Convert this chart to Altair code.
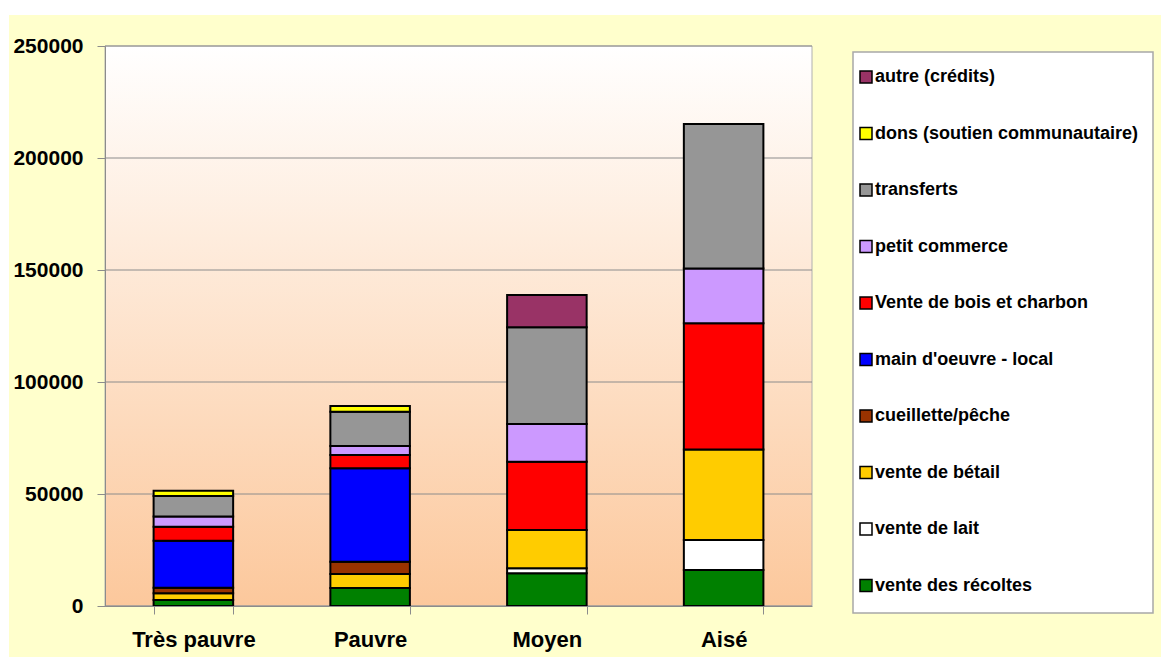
import altair as alt
import pandas as pd

# Household income by wealth group, stacked by source (bottom to top)
categories = ["Très pauvre", "Pauvre", "Moyen", "Aisé"]

sources = [
    "vente des récoltes",
    "vente de lait",
    "vente de bétail",
    "cueillette/pêche",
    "main d'oeuvre - local",
    "Vente de bois et charbon",
    "petit commerce",
    "transferts",
    "dons (soutien communautaire)",
    "autre (crédits)",
]
source_colors = [
    "#008000",
    "#FFFFFF",
    "#FFCC00",
    "#993300",
    "#0000FF",
    "#FF0000",
    "#CC99FF",
    "#969696",
    "#FFFF00",
    "#993366",
]

# values per group: Très pauvre, Pauvre, Moyen, Aisé
vente_recoltes = [2700, 8000, 14600, 16100]
vente_lait = [0, 0, 2200, 13400]
vente_betail = [3000, 6300, 17100, 40400]
cueillette_peche = [2500, 5500, 0, 0]
main_oeuvre_local = [20900, 41700, 0, 0]
bois_charbon = [6300, 5900, 30500, 56300]
petit_commerce = [4500, 4000, 16800, 24500]
transferts = [9200, 15300, 43200, 64500]
dons = [2400, 2600, 0, 0]
autre_credits = [0, 0, 14400, 0]

series = [
    vente_recoltes, vente_lait, vente_betail, cueillette_peche, main_oeuvre_local,
    bois_charbon, petit_commerce, transferts, dons, autre_credits,
]

y_ticks = [0, 50000, 100000, 150000, 200000, 250000]

rows = []
for rank, (src, vals) in enumerate(zip(sources, series)):
    for cat, v in zip(categories, vals):
        if v > 0:
            rows.append({"groupe": cat, "source": src, "revenu": v, "rang": rank})
df = pd.DataFrame(rows)

W, H = 707, 560
PAD = {"left": 105, "top": 46, "right": 1161 - 105 - W, "bottom": 657 - 46 - H}
FONT = "Liberation Sans"
GRAY = "#8C8C8C"

one = pd.DataFrame({"k": [0]})
y_scale = alt.Scale(domain=[0, 250000], nice=False)
x_scale = alt.Scale(domain=categories, paddingInner=0.55, paddingOuter=0.275)

# pale yellow page
page = alt.Chart(one).mark_rect(color="#FFFFCC").encode(
    x=alt.value(-96), x2=alt.value(1161 - PAD["left"]),
    y=alt.value(-31), y2=alt.value(657 - PAD["top"]),
)

# plot area with white-to-peach gradient
plot_bg = alt.Chart(one).mark_rect(
    color=alt.Gradient(
        gradient="linear",
        stops=[alt.GradientStop(color="#FFFFFF", offset=0),
               alt.GradientStop(color="#FCC89C", offset=1)],
        x1=0, x2=0, y1=0, y2=1,
    ),
    stroke="#B0B0B0", strokeWidth=1,
).encode(x=alt.value(0), x2=alt.value(W), y=alt.value(0), y2=alt.value(H))

# legend frame
legend_box = alt.Chart(one).mark_rect(
    fill="white", stroke="#A8A8A8", strokeWidth=1.5
).encode(x=alt.value(748), x2=alt.value(1048), y=alt.value(6), y2=alt.value(567))

grid = alt.Chart(pd.DataFrame({"v": y_ticks})).mark_rule(
    color=GRAY, strokeWidth=1
).encode(
    y=alt.Y("v:Q", scale=y_scale),
    x=alt.value(0), x2=alt.value(W),
)

bars = alt.Chart(df).mark_bar(stroke="black", strokeWidth=2).encode(
    x=alt.X(
        "groupe:N", scale=x_scale, sort=categories, title=None,
        axis=alt.Axis(
            labelAngle=0, tickBand="extent", tickSize=8, tickColor=GRAY,
            domainColor=GRAY, labelFont=FONT, labelFontSize=22,
            labelFontWeight="bold", labelColor="black", labelPadding=15,
            zindex=1,
        ),
    ),
    y=alt.Y(
        "revenu:Q", stack="zero", scale=y_scale, title=None,
        axis=alt.Axis(
            values=y_ticks, format="d", grid=False, tickSize=8, tickColor=GRAY,
            domainColor=GRAY, labelFont=FONT, labelFontSize=21,
            labelFontWeight="bold", labelColor="black", labelPadding=14,
            zindex=1,
        ),
    ),
    color=alt.Color(
        "source:N",
        scale=alt.Scale(domain=sources[::-1], range=source_colors[::-1]),
        legend=alt.Legend(
            title=None, orient="none", legendX=752, legendY=22,
            symbolType="square", symbolSize=144, symbolStrokeColor="black",
            symbolStrokeWidth=1.5, labelFont=FONT, labelFontSize=18,
            labelFontWeight="bold", labelColor="black", labelOffset=0,
            rowPadding=38.5, labelLimit=400,
        ),
    ),
    order=alt.Order("rang:Q", sort="ascending"),
)

chart = alt.layer(page, plot_bg, legend_box, grid, bars).properties(
    width=W, height=H, padding=PAD,
    autosize=alt.AutoSizeParams(type="none"),
    background="white",
).configure_view(stroke=None)

chart.save("out.html", embed_options={"renderer": "svg", "actions": False})
